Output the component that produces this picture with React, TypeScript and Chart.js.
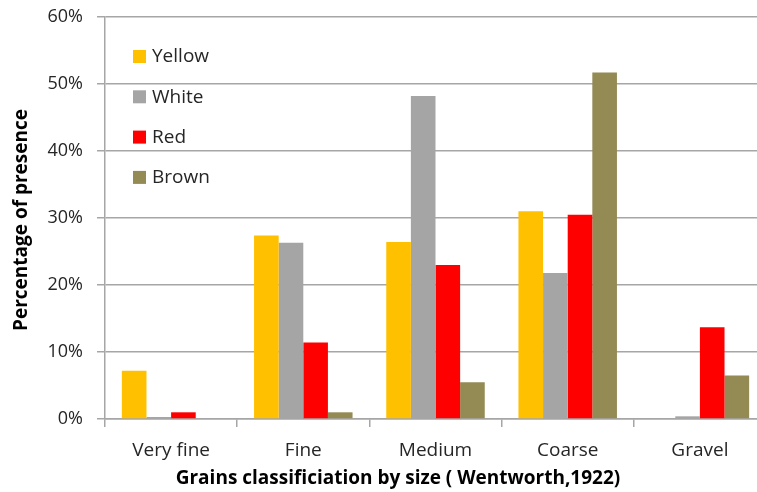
import React, { useEffect, useRef } from "react";
import { Chart, registerables } from "chart.js";
Chart.register(...registerables);

const categories = ["Very fine", "Fine", "Medium", "Coarse", "Gravel"];
const yellow = [7.2, 27.4, 26.4, 31.0, 0];
const white = [0.3, 26.3, 48.2, 21.8, 0.4];
const red = [1.0, 11.4, 23.0, 30.5, 13.7];
const brown = [0, 1.0, 5.5, 51.7, 6.5];
const seriesNames = ["Yellow", "White", "Red", "Brown"];
const seriesColors = ["#FFC000", "#A5A5A5", "#FF0000", "#948A54"];
const yTitle = "Percentage of presence";
const xTitle = "Grains classificiation by size ( Wentworth,1922)";

const FONT = "'Open Sans', sans-serif";

const overlay = {
  id: "overlay",
  afterDraw(chart: any) {
    const ctx = chart.ctx;
    const ca = chart.chartArea;
    ctx.save();
    // legend
    ctx.font = `19px ${FONT}`;
    ctx.textBaseline = "middle";
    ctx.textAlign = "left";
    chart.data.datasets.forEach((ds: any, i: number) => {
      const y = ca.top + 39 + i * 40.3;
      ctx.fillStyle = ds.backgroundColor;
      ctx.fillRect(ca.left + 28, y - 6, 13, 13);
      ctx.fillStyle = "#262626";
      ctx.fillText(ds.label, ca.left + 47, y + 1);
    });
    // axis titles
    ctx.font = `bold 19px ${FONT}`;
    ctx.fillStyle = "#000";
    ctx.textAlign = "center";
    ctx.fillText(xTitle, 398, 479);
    ctx.translate(22, 220);
    ctx.rotate(-Math.PI / 2);
    ctx.fillText(yTitle, 0, 0);
    ctx.restore();
  },
};

export default function App() {
  const ref = useRef<HTMLCanvasElement>(null);
  useEffect(() => {
    document.body.style.margin = "0";
    document.body.style.overflow = "hidden";
    const values = [yellow, white, red, brown];
    const chart = new Chart(ref.current!, {
      type: "bar",
      data: {
        labels: categories,
        datasets: seriesNames.map((n, i) => ({
          label: n,
          data: values[i],
          backgroundColor: seriesColors[i],
          categoryPercentage: 0.745,
          barPercentage: 1.0,
        })),
      },
      options: {
        animation: false,
        responsive: false,
        maintainAspectRatio: false,
        layout: { padding: { top: 17, right: 0, left: 0, bottom: 0 } },
        plugins: { legend: { display: false }, tooltip: { enabled: false } },
        scales: {
          x: {
            grid: {
              offset: true,
              drawOnChartArea: false,
              tickLength: 8,
              color: "#A6A6A6",
              lineWidth: 1.5,
            },
            border: { color: "#A6A6A6", width: 1.5 },
            ticks: { font: { family: FONT, size: 19 }, color: "#262626", padding: 12 },
            afterFit: (s: any) => { s.height = 73; s.paddingLeft = 0; s.paddingRight = 0; },
          },
          y: {
            min: 0,
            max: 60,
            ticks: {
              stepSize: 10,
              callback: (v: any) => v + "%",
              font: { family: FONT, size: 18 },
              color: "#262626",
              padding: 14,
            },
            grid: { color: "#A6A6A6", lineWidth: 1.5, tickLength: 8 },
            border: { color: "#A6A6A6", width: 1.5 },
            afterFit: (s: any) => { s.width = 105; s.paddingTop = 0; s.paddingBottom = 0; },
          },
        },
      },
      plugins: [overlay],
    });
    return () => chart.destroy();
  }, []);
  return (
    <div style={{ position: "fixed", left: 0, top: 0, width: 757, height: 492, overflow: "hidden", background: "#fff" }}>
      <canvas ref={ref} width={766} height={492} style={{ display: "block" }} />
    </div>
  );
}
